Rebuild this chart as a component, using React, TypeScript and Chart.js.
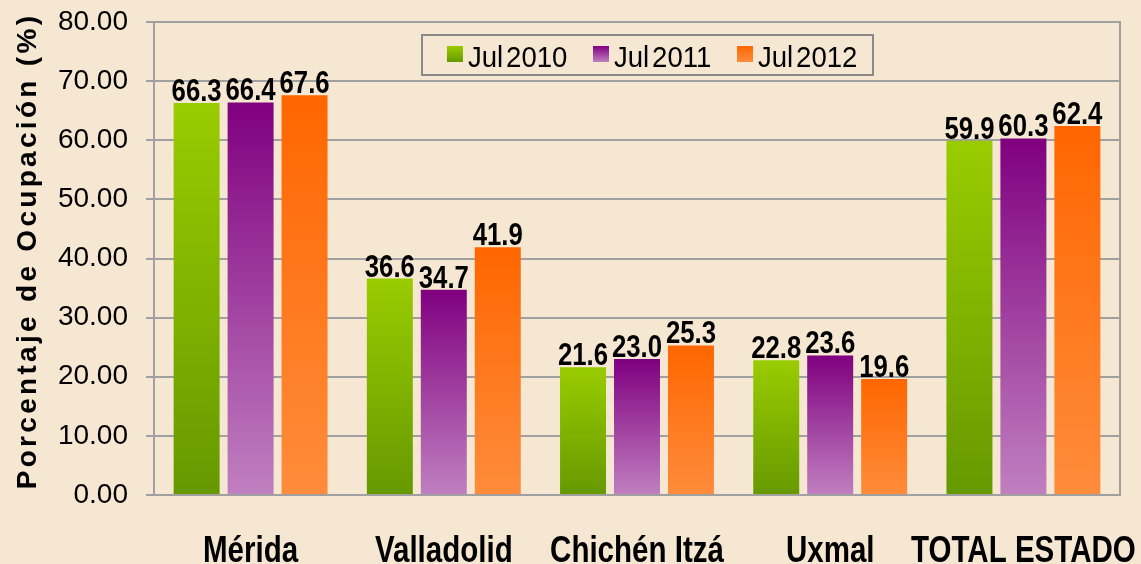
import React, { useEffect, useRef } from 'react';
import { Chart, registerables } from 'chart.js';

Chart.register(...registerables);

const categories = ['Mérida', 'Valladolid', 'Chichén Itzá', 'Uxmal', 'TOTAL ESTADO'];
const seriesNames = ['Jul 2010', 'Jul 2011', 'Jul 2012'];
const jul2010 = [66.3, 36.6, 21.6, 22.8, 59.9];
const jul2011 = [66.4, 34.7, 23.0, 23.6, 60.3];
const jul2012 = [67.6, 41.9, 25.3, 19.6, 62.4];
const yMin = 0;
const yMax = 80;
const yStep = 10;
const yTitle = 'Porcentaje de Ocupación (%)';

const gradients: [string, string][] = [
  ['#99CC00', '#669900'],
  ['#800080', '#C080C0'],
  ['#FF6600', '#FF8C3C'],
];

const BG = '#F5E7D1';
const GRID = '#A0A0A0';
const SANS = "'Liberation Sans', Arial, sans-serif";

function barGradient(i: number) {
  return (c: any) => {
    const chart = c.chart;
    const y = chart.scales && chart.scales.y;
    if (!y || c.type !== 'data' || typeof c.raw !== 'number') return gradients[i][0];
    const top = y.getPixelForValue(c.raw);
    const bottom = y.getPixelForValue(0);
    if (!isFinite(top) || !isFinite(bottom) || top === bottom) return gradients[i][0];
    const g = chart.ctx.createLinearGradient(0, top, 0, bottom);
    g.addColorStop(0, gradients[i][0]);
    g.addColorStop(1, gradients[i][1]);
    return g;
  };
}

function drawCondensed(ctx: any, text: string, x: number, y: number, sx: number) {
  ctx.save();
  ctx.translate(x, y);
  ctx.scale(sx, 1);
  ctx.fillText(text, 0, 0);
  ctx.restore();
}

const backgroundPlugin = {
  id: 'bg',
  beforeDraw(chart: any) {
    const ctx = chart.ctx;
    ctx.save();
    ctx.fillStyle = BG;
    ctx.fillRect(0, 0, chart.width, chart.height);
    ctx.restore();
  },
};

const labelsPlugin = {
  id: 'valueLabels',
  afterDatasetsDraw(chart: any) {
    const ctx = chart.ctx;
    ctx.save();
    ctx.font = `bold 31px ${SANS}`;
    ctx.fillStyle = '#000';
    ctx.textAlign = 'center';
    ctx.textBaseline = 'alphabetic';
    chart.data.datasets.forEach((ds: any, di: number) => {
      const meta = chart.getDatasetMeta(di);
      meta.data.forEach((el: any, i: number) => {
        const v = ds.data[i];
        drawCondensed(ctx, Number(v).toFixed(1), el.x, el.y - 2, 0.83);
      });
    });
    ctx.restore();
  },
};

const xLabelsPlugin = {
  id: 'xLabels',
  afterDraw(chart: any) {
    const ctx = chart.ctx;
    const xs = chart.scales.x;
    ctx.save();
    ctx.font = `bold 36px ${SANS}`;
    ctx.fillStyle = '#000';
    ctx.textAlign = 'center';
    ctx.textBaseline = 'alphabetic';
    (chart.data.labels as string[]).forEach((lab, i) => {
      drawCondensed(ctx, lab, xs.getPixelForValue(i), 562, 0.82);
    });
    ctx.restore();
  },
};

const legendPlugin = {
  id: 'boxLegend',
  afterDraw(chart: any) {
    const ctx = chart.ctx;
    ctx.save();
    ctx.strokeStyle = '#8A8A8A';
    ctx.lineWidth = 2;
    ctx.strokeRect(422, 35, 451, 40);
    const xs = [447, 593, 737];
    ctx.font = `29px ${SANS}`;
    ctx.textBaseline = 'alphabetic';
    ctx.textAlign = 'left';
    try { (ctx as any).wordSpacing = '-5px'; } catch (e) {}
    chart.data.datasets.forEach((ds: any, i: number) => {
      const x = xs[i];
      const g = ctx.createLinearGradient(0, 46, 0, 62);
      g.addColorStop(0, gradients[i][0]);
      g.addColorStop(1, gradients[i][1]);
      ctx.fillStyle = g;
      ctx.fillRect(x, 46, 16, 16);
      ctx.fillStyle = '#000';
      drawCondensed(ctx, ds.label, x + 21, 67, 0.95);
    });
    ctx.restore();
  },
};

const titlePlugin = {
  id: 'yTitle',
  afterDraw(chart: any) {
    const ctx = chart.ctx;
    ctx.save();
    ctx.translate(28, 251);
    ctx.rotate(-Math.PI / 2);
    ctx.font = `bold 28px ${SANS}`;
    try { (ctx as any).letterSpacing = '3.3px'; } catch (e) {}
    ctx.fillStyle = '#000';
    ctx.textAlign = 'center';
    ctx.textBaseline = 'middle';
    ctx.fillText(yTitle, 0, 0);
    ctx.restore();
  },
};

export default function App() {
  const ref = useRef<HTMLCanvasElement | null>(null);
  useEffect(() => {
    document.body.style.margin = '0';
    document.body.style.background = BG;
    const canvas = ref.current;
    if (!canvas) return;
    const series = [jul2010, jul2011, jul2012];
    const chart = new Chart(canvas, {
      type: 'bar',
      data: {
        labels: categories,
        datasets: series.map((d, i) => ({
          label: seriesNames[i],
          data: d,
          backgroundColor: barGradient(i),
          borderWidth: 0,
          categoryPercentage: 0.838,
          barPercentage: 0.852,
        })),
      },
      options: {
        responsive: false,
        animation: false,
        devicePixelRatio: 1,
        layout: { padding: { top: 22, left: 0, right: 0, bottom: 0 } },
        plugins: {
          legend: { display: false },
          tooltip: { enabled: false },
          title: { display: false },
        },
        scales: {
          x: {
            grid: { display: false },
            border: { display: true, color: GRID, width: 2 },
            ticks: { display: false },
            afterFit: (s: any) => { s.height = 69; s.paddingLeft = 0; s.paddingRight = 0; },
          },
          y: {
            min: yMin,
            max: yMax,
            ticks: {
              stepSize: yStep,
              color: '#000',
              font: { family: SANS, size: 28 },
              padding: 18,
              callback: (v: any) => Number(v).toFixed(2),
            },
            grid: { color: GRID, lineWidth: 2, tickLength: 8 },
            border: { display: true, color: GRID, width: 2 },
            afterFit: (s: any) => { s.width = 154; s.paddingTop = 0; s.paddingBottom = 0; },
          },
          y2: {
            position: 'right',
            min: yMin,
            max: yMax,
            ticks: { display: false },
            grid: { display: false },
            border: { display: true, color: GRID, width: 2 },
            afterFit: (s: any) => { s.width = 21; s.paddingTop = 0; s.paddingBottom = 0; },
          },
        },
      },
      plugins: [backgroundPlugin, labelsPlugin, xLabelsPlugin, legendPlugin, titlePlugin],
    } as any);
    return () => chart.destroy();
  }, []);
  return (
    <div style={{ width: 1141, height: 564, background: BG }}>
      <canvas ref={ref} width={1141} height={564} style={{ display: 'block', width: 1141, height: 564 }} />
    </div>
  );
}
